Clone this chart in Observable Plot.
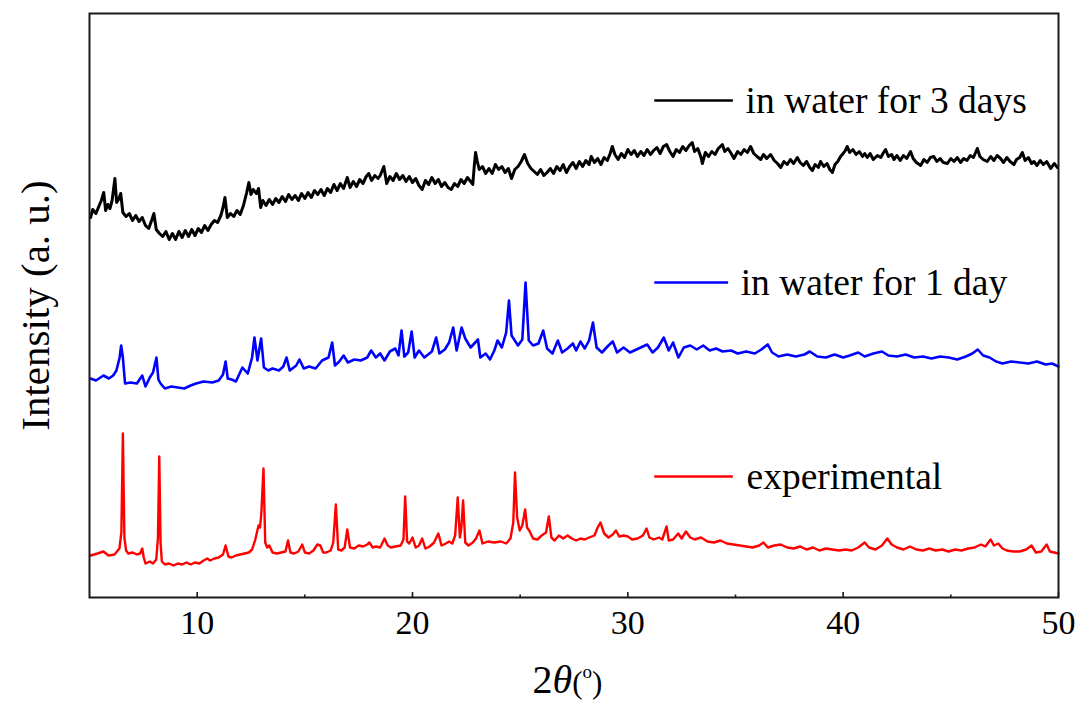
<!DOCTYPE html>
<html>
<head>
<meta charset="utf-8">
<script src="https://cdn.jsdelivr.net/npm/d3@7"></script>
<script src="https://cdn.jsdelivr.net/npm/@observablehq/plot@0.6"></script>
<style>
  html, body { margin: 0; padding: 0; background: #fff; }
  #wrap { position: relative; width: 1081px; height: 708px; font-family: "Liberation Serif", "Times New Roman", serif; color: #000; }
  #xlabel { position: absolute; left: 0; top: 660px; width: 1081px; text-align: center; line-height: 1; white-space: nowrap; }
  #xlabel .inner { display: inline-block; transform: translateX(27px); font-size: 40px; }
  #xlabel .par { font-size: 31px; }
  #xlabel sup { font-size: 19px; vertical-align: 15px; }
</style>
</head>
<body>
<div id="wrap">
  <div id="chart"></div>
  <div id="xlabel"><span class="inner">2<i>θ</i><span class="par">(</span><sup>o</sup><span class="par">)</span></span></div>
</div>
<script>
// ---------- data (2θ in degrees, intensity in a.u., curves already offset) ----------
const seriesNames = ["in water for 3 days", "in water for 1 day", "experimental"];
const xTicks = [10, 20, 30, 40, 50];
const xMinorTicks = [15, 25, 35, 45];
const yLabel = "Intensity (a. u.)";

const threeDays = [
[5.05,380],[5.15,388],[5.3,384],[5.45,392],[5.55,397],[5.66,405],[5.75,387],[5.85,393],[5.95,389],[6.05,397],
[6.18,419],[6.26,395],[6.35,398],[6.45,404],[6.55,385],[6.7,381],[6.85,384],[7.0,377],[7.15,382],[7.3,376],
[7.45,380],[7.6,372],[7.75,369],[7.9,378],[7.99,384],[8.1,368],[8.25,364],[8.4,361],[8.55,366],[8.7,358],
[8.85,364],[9.0,358],[9.15,366],[9.3,360],[9.45,367],[9.6,361],[9.75,368],[9.9,362],[10.05,369],[10.2,365],
[10.35,372],[10.5,367],[10.65,373],[10.8,377],[10.95,375],[11.1,382],[11.2,390],[11.29,400],[11.4,380],[11.55,384],
[11.7,381],[11.85,387],[12.0,383],[12.15,392],[12.3,405],[12.4,415],[12.5,403],[12.6,408],[12.75,404],[12.85,409],
[12.95,390],[13.05,397],[13.2,392],[13.35,398],[13.5,393],[13.65,399],[13.8,395],[13.95,401],[14.1,396],[14.25,403],
[14.4,398],[14.55,402],[14.7,397],[14.85,404],[15.0,399],[15.15,405],[15.3,400],[15.45,407],[15.6,403],[15.75,408],
[15.9,402],[16.05,409],[16.2,405],[16.35,413],[16.5,407],[16.65,414],[16.8,409],[16.97,420],[17.1,410],[17.25,416],
[17.4,411],[17.55,418],[17.7,414],[17.85,421],[17.97,424],[18.1,417],[18.25,422],[18.4,419],[18.5,422],[18.67,431],
[18.8,414],[18.95,421],[19.1,417],[19.25,424],[19.4,418],[19.55,422],[19.7,416],[19.85,421],[20.0,415],[20.15,419],
[20.3,412],[20.45,408],[20.6,417],[20.75,413],[20.9,420],[21.05,414],[21.2,418],[21.35,411],[21.5,415],[21.65,410],
[21.8,408],[21.95,414],[22.1,411],[22.25,418],[22.4,414],[22.55,420],[22.7,416],[22.8,413],[22.87,432],[22.93,445],
[23.0,437],[23.1,428],[23.25,431],[23.4,424],[23.55,429],[23.7,424],[23.85,433],[24.0,428],[24.15,431],[24.3,425],
[24.45,429],[24.6,419],[24.75,428],[24.9,431],[25.05,436],[25.2,443],[25.35,434],[25.5,429],[25.65,426],[25.8,423],
[25.95,428],[26.1,422],[26.25,425],[26.4,429],[26.55,424],[26.7,431],[26.85,427],[27.0,433],[27.15,425],[27.3,431],
[27.45,435],[27.6,429],[27.75,436],[27.9,431],[28.05,437],[28.2,433],[28.3,441],[28.45,435],[28.6,439],[28.75,433],
[28.9,440],[29.05,437],[29.18,444],[29.28,451],[29.4,443],[29.55,438],[29.7,444],[29.85,440],[30.0,448],[30.15,443],
[30.3,447],[30.45,441],[30.6,446],[30.75,442],[30.9,448],[31.05,443],[31.2,447],[31.35,450],[31.5,444],[31.65,451],
[31.8,453],[31.95,446],[32.1,441],[32.25,448],[32.4,445],[32.55,451],[32.7,447],[32.85,452],[32.99,455],[33.1,446],
[33.25,449],[33.4,440],[33.46,434],[33.6,445],[33.75,441],[33.9,446],[34.05,443],[34.2,449],[34.39,453],[34.5,446],
[34.65,449],[34.8,444],[34.93,439],[35.1,446],[35.25,443],[35.4,448],[35.55,445],[35.7,451],[35.85,444],[36.0,441],
[36.17,438],[36.3,443],[36.45,439],[36.63,443],[36.8,437],[36.95,434],[37.1,430],[37.25,436],[37.4,433],[37.55,438],
[37.7,434],[37.87,440],[38.0,435],[38.15,432],[38.3,436],[38.45,430],[38.57,427],[38.7,433],[38.85,430],[38.95,436],
[39.1,431],[39.25,434],[39.38,428],[39.5,425],[39.62,433],[39.75,436],[39.88,441],[40.0,444],[40.1,447],[40.19,451],
[40.3,445],[40.45,448],[40.6,443],[40.75,446],[40.9,441],[41.0,444],[41.12,440],[41.25,444],[41.4,438],[41.59,442],
[41.75,440],[41.85,444],[41.97,448],[42.1,441],[42.25,443],[42.36,438],[42.5,442],[42.65,437],[42.8,442],[42.95,439],
[43.13,446],[43.25,439],[43.4,435],[43.6,432],[43.75,438],[43.9,435],[44.05,440],[44.21,441],[44.35,436],[44.5,439],
[44.65,435],[44.84,434],[45.0,439],[45.15,436],[45.3,440],[45.45,435],[45.6,439],[45.75,437],[45.9,442],[46.05,440],
[46.23,449],[46.35,441],[46.5,438],[46.69,436],[46.85,441],[47.0,437],[47.15,442],[47.31,439],[47.45,435],[47.6,440],
[47.75,436],[47.93,433],[48.05,438],[48.2,440],[48.32,445],[48.45,437],[48.6,440],[48.75,434],[48.86,436],[49.0,432],
[49.15,437],[49.3,433],[49.45,436],[49.64,429],[49.8,434],[49.95,430]
];

const oneDay = [
[5.05,219],[5.3,217],[5.65,222],[5.9,219],[6.1,222],[6.25,227],[6.4,240],[6.47,252],[6.55,240],[6.65,214],
[6.9,215],[7.2,214],[7.45,222],[7.6,211],[7.8,220],[7.95,225],[8.11,240],[8.2,218],[8.3,214],[8.5,209],
[8.8,211],[9.1,210],[9.4,209],[9.7,212],[9.95,214],[10.3,216],[10.7,215],[11.0,217],[11.2,223],[11.32,236],
[11.42,219],[11.6,218],[11.8,216],[12.1,230],[12.35,224],[12.55,240],[12.66,260],[12.8,237],[12.97,259],[13.1,230],
[13.3,227],[13.5,229],[13.8,227],[14.0,231],[14.15,240],[14.3,227],[14.6,232],[14.75,238],[14.95,229],[15.2,231],
[15.5,229],[15.8,237],[16.1,240],[16.27,255],[16.4,232],[16.6,236],[16.8,242],[17.0,235],[17.3,238],[17.6,237],
[17.9,240],[18.08,247],[18.3,240],[18.5,244],[18.7,237],[18.95,246],[19.2,249],[19.35,242],[19.49,267],[19.62,241],
[19.8,245],[19.96,266],[20.1,240],[20.3,247],[20.55,240],[20.9,246],[21.1,260],[21.25,244],[21.5,248],[21.7,255],
[21.89,270],[22.05,247],[22.28,270],[22.45,259],[22.7,250],[23.04,258],[23.15,240],[23.4,244],[23.6,238],[23.8,247],
[23.95,257],[24.15,250],[24.35,265],[24.48,297],[24.6,262],[24.9,252],[25.1,258],[25.25,315],[25.4,257],[25.6,252],
[25.85,254],[26.07,267],[26.25,249],[26.5,244],[26.75,257],[26.95,245],[27.2,249],[27.45,254],[27.6,247],[27.8,256],
[28.0,249],[28.2,257],[28.38,275],[28.55,250],[28.8,245],[29.1,252],[29.3,256],[29.5,245],[29.8,250],[30.1,245],
[30.5,249],[30.9,253],[31.15,245],[31.4,250],[31.67,260],[31.9,247],[32.1,255],[32.35,240],[32.6,250],[32.9,252],
[33.2,248],[33.5,252],[33.8,247],[34.1,249],[34.4,246],[34.8,247],[35.1,244],[35.5,246],[35.9,244],[36.2,248],
[36.5,253],[36.7,245],[37.0,241],[37.4,243],[37.8,241],[38.2,243],[38.45,246],[38.8,241],[39.2,240],[39.6,243],
[40.0,240],[40.3,242],[40.7,245],[41.0,241],[41.4,244],[41.8,246],[42.1,242],[42.5,241],[42.9,243],[43.3,240],
[43.7,241],[44.1,239],[44.5,241],[44.9,240],[45.3,238],[45.7,241],[46.0,244],[46.25,248],[46.5,242],[46.8,240],
[47.1,236],[47.4,234],[47.8,236],[48.2,235],[48.6,234],[49.0,236],[49.4,233],[49.7,234],[50.0,231]
];

const experimental = [
[5.05,42],[5.37,44],[5.65,46],[5.88,42],[6.16,43],[6.39,49],[6.48,65],[6.55,164],[6.62,60],[6.7,47],
[6.8,44],[7.0,45],[7.2,43],[7.35,44],[7.45,49],[7.52,40],[7.6,34],[7.8,36],[7.95,34],[8.1,38],
[8.18,60],[8.24,141],[8.3,55],[8.36,36],[8.5,33],[8.7,34],[8.9,32],[9.1,34],[9.3,33],[9.5,35],
[9.7,33],[9.9,35],[10.1,34],[10.3,37],[10.47,39],[10.6,37],[10.8,39],[11.0,40],[11.2,43],[11.32,52],
[11.45,41],[11.6,40],[11.8,42],[12.0,43],[12.2,44],[12.4,45],[12.55,48],[12.7,58],[12.85,72],[12.92,70],
[12.98,84],[13.08,129],[13.16,55],[13.25,50],[13.35,52],[13.5,45],[13.7,44],[13.9,45],[14.1,46],[14.22,57],
[14.33,45],[14.5,44],[14.7,46],[14.88,53],[15.0,45],[15.2,44],[15.4,47],[15.58,53],[15.72,52],[15.85,45],
[16.0,45],[16.2,47],[16.32,55],[16.44,93],[16.55,48],[16.7,47],[16.85,50],[16.97,68],[17.1,50],[17.3,49],
[17.5,52],[17.7,51],[17.9,53],[18.0,55],[18.15,50],[18.3,51],[18.5,50],[18.7,59],[18.85,52],[19.0,50],
[19.2,51],[19.45,52],[19.58,58],[19.66,101],[19.75,56],[19.85,54],[20.0,60],[20.15,50],[20.3,52],[20.45,59],
[20.6,49],[20.8,51],[21.0,55],[21.2,64],[21.35,52],[21.55,54],[21.7,56],[21.85,54],[21.98,62],[22.1,100],
[22.2,60],[22.27,70],[22.35,97],[22.45,55],[22.6,52],[22.8,55],[22.95,59],[23.11,67],[23.25,54],[23.5,56],
[23.8,55],[24.1,56],[24.35,54],[24.55,59],[24.68,75],[24.76,125],[24.86,80],[24.98,67],[25.1,72],[25.23,88],
[25.32,70],[25.42,67],[25.6,59],[25.8,58],[26.0,62],[26.2,65],[26.33,81],[26.45,60],[26.6,57],[26.8,62],
[27.0,59],[27.2,62],[27.4,59],[27.6,57],[27.8,59],[28.0,58],[28.2,60],[28.45,62],[28.6,70],[28.73,75],
[28.9,64],[29.1,60],[29.3,63],[29.45,67],[29.6,61],[29.8,62],[30.0,61],[30.2,58],[30.45,59],[30.7,62],
[30.87,69],[31.0,60],[31.2,58],[31.45,60],[31.6,58],[31.8,71],[31.9,57],[32.1,58],[32.34,64],[32.5,59],
[32.7,66],[32.9,60],[33.1,58],[33.4,60],[33.7,56],[34.0,55],[34.3,57],[34.6,54],[34.9,53],[35.2,52],
[35.5,51],[35.8,50],[36.1,52],[36.3,55],[36.5,50],[36.8,52],[37.1,53],[37.4,50],[37.7,49],[38.0,51],
[38.3,48],[38.6,50],[38.9,47],[39.2,49],[39.5,48],[39.8,47],[40.1,48],[40.4,47],[40.7,50],[41.0,55],
[41.2,50],[41.5,48],[41.8,52],[42.05,59],[42.25,53],[42.5,50],[42.8,48],[43.1,51],[43.4,48],[43.7,47],
[44.0,49],[44.3,47],[44.6,48],[44.9,46],[45.2,48],[45.5,47],[45.8,49],[46.1,50],[46.4,53],[46.6,51],
[46.85,58],[47.0,52],[47.2,54],[47.4,49],[47.6,47],[47.9,46],[48.2,46],[48.5,48],[48.75,52],[48.95,45],
[49.2,46],[49.45,53],[49.6,46],[49.8,45],[50.0,44]
];

// ---------- styles / layout (kept apart from the data) ----------
const seriesColors = ["#000000", "#0000ff", "#ff0000"];
const seriesWidths = [3.0, 2.6, 2.4];
const legendY = [497, 315, 121];      // legend row positions, in intensity units
const legendX1 = [31.25, 31.25, 31.25];
const legendX2 = [34.9, 34.68, 34.9];
const legendTextX = [35.47, 35.24, 35.51];

const seriesData = [threeDays, oneDay, experimental];
const rows = seriesData.flatMap((arr, i) => arr.map(([t, v]) => ({t, v, series: seriesNames[i]})));
const legendRows = seriesNames.map((name, i) => ({
  name, ly: legendY[i], x1: legendX1[i], x2: legendX2[i], tx: legendTextX[i]
}));

const frameColor = "#1a1a1a";

const chart = Plot.plot({
  width: 1081,
  height: 658,
  marginLeft: 89,
  marginRight: 23,
  marginTop: 13,
  marginBottom: 61,
  style: {fontFamily: "'Liberation Serif', 'Times New Roman', serif", background: "#fff", color: "#000"},
  x: {domain: [5, 50]},
  y: {domain: [0, 584], axis: null},
  color: {domain: seriesNames, range: seriesColors},
  marks: [
    ...seriesNames.map((name, i) =>
      Plot.line(rows.filter(d => d.series === name), {
        x: "t", y: "v", stroke: "series", strokeWidth: seriesWidths[i], strokeLinejoin: "round"
      })
    ),
    Plot.frame({stroke: frameColor, strokeWidth: 2}),
    Plot.ruleX(xTicks, {x: d => d, y1: 0, y2: 5, stroke: frameColor, strokeWidth: 1.6}),
    Plot.ruleX(xMinorTicks, {x: d => d, y1: 0, y2: 2.5, stroke: frameColor, strokeWidth: 1.6}),
    Plot.axisX({ticks: xTicks, tickSize: 0, tickPadding: 12, fontSize: 34, label: null, tickFormat: d => String(d)}),
    Plot.ruleY(legendRows, {y: "ly", x1: "x1", x2: "x2", stroke: "name", strokeWidth: 2.6}),
    Plot.text(legendRows, {x: "tx", y: "ly", text: "name", textAnchor: "start", fontSize: 37.5, fill: "#000"}),
    Plot.text([yLabel], {frameAnchor: "left", text: d => d, rotate: -90, dx: -54, textAnchor: "middle", fontSize: 41, fill: "#000"})
  ]
});

document.getElementById("chart").appendChild(chart);
</script>
</body>
</html>
